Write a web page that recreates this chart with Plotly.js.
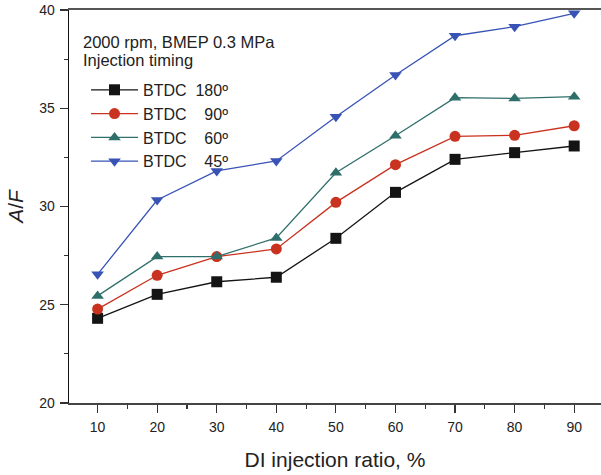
<!DOCTYPE html>
<html><head><meta charset="utf-8">
<script src="https://cdn.plot.ly/plotly-3.0.1.min.js"></script>
<style>html,body{margin:0;padding:0;background:#fff}</style>
</head><body>
<div id="chart" style="width:601px;height:475px"></div>
<script>
const ratio = [10, 20, 30, 40, 50, 60, 70, 80, 90];
const btdc180 = [24.31, 25.53, 26.17, 26.40, 28.38, 30.72, 32.40, 32.74, 33.08];
const btdc90  = [24.78, 26.50, 27.45, 27.84, 30.21, 32.13, 33.57, 33.62, 34.11];
const btdc60  = [25.45, 27.45, 27.45, 28.40, 31.72, 33.60, 35.54, 35.50, 35.59];
const btdc45  = [26.55, 30.33, 31.81, 32.32, 34.57, 36.69, 38.69, 39.15, 39.83];
const seriesNames = ["BTDC\u00a0\u00a0180º", "BTDC\u00a0\u00a0\u00a0\u00a090º", "BTDC\u00a0\u00a0\u00a0\u00a060º", "BTDC\u00a0\u00a0\u00a0\u00a045º"];
const xTicks = [10, 20, 30, 40, 50, 60, 70, 80, 90];
const yTicks = [20, 25, 30, 35, 40];
const noteLines = ["2000 rpm, BMEP 0.3 MPa", "Injection timing"];

const colors = ["#141414", "#c9321f", "#2f6f6b", "#3853b5"];
const symbols = ["square", "circle", "triangle-up", "triangle-down"];
const sizes = [11, 11, 11, 11];
const ys = [btdc180, btdc90, btdc60, btdc45];

const traces = ys.map((y, i) => ({
  x: ratio, y: y, name: seriesNames[i], type: "scatter", mode: "lines+markers",
  legendgroup: "g" + i,
  line: {color: colors[i], width: 1.3},
  marker: {symbol: symbols[i], size: sizes[i], color: colors[i]}
}));

const layout = {
  width: 601, height: 475,
  margin: {l: 69, r: 0, t: 10, b: 72},
  paper_bgcolor: "#fff", plot_bgcolor: "#fff",
  font: {family: "Liberation Sans, Arial, sans-serif", color: "#222", size: 14},
  showlegend: true,
  legend: {x: 0.032, y: 0.84, xanchor: "left", yanchor: "top",
    font: {size: 16, color: "#222"}, bgcolor: "rgba(0,0,0,0)",
    tracegroupgap: 0, itemwidth: 47},
  xaxis: {
    range: [5.2, 94.5], tickvals: xTicks, ticks: "outside", ticklen: 8, tickwidth: 1.2,
    tickcolor: "#333", showline: true, linecolor: "#444", linewidth: 1.6,
    mirror: false, showgrid: false, zeroline: false, ticklabelstandoff: 3,
    minor: {dtick: 10, tick0: 5, ticks: "outside", ticklen: 4, tickwidth: 1.2, tickcolor: "#333", showgrid: false},
    tickfont: {size: 14, color: "#222"},
    title: {text: "DI injection ratio, %", font: {size: 21, color: "#222"}, standoff: 18}
  },
  xaxis2: {overlaying: "x", side: "top", range: [5.2, 94.5], showline: true, linecolor: "#555", linewidth: 1.8, showticklabels: false, ticks: "", showgrid: false, zeroline: false},
  yaxis: {
    range: [20, 40], tickvals: yTicks, ticks: "outside", ticklen: 8, tickwidth: 1.2,
    tickcolor: "#333", showline: true, linecolor: "#111", linewidth: 1.3,
    showgrid: false, zeroline: false, ticklabelstandoff: 2,
    minor: {dtick: 2.5, tick0: 20, ticks: "outside", ticklen: 4, tickwidth: 1.2, tickcolor: "#333", showgrid: false},
    tickfont: {size: 14, color: "#222"},
    title: {text: "<i>A</i>/<i>F</i>", font: {size: 21, color: "#222"}, standoff: 10}
  },
  annotations: noteLines.map((t, i) => ({
    xref: "paper", yref: "paper", x: 0.022, y: [0.9186, 0.8728][i], xanchor: "left", yanchor: "middle",
    showarrow: false, align: "left", text: t, font: {size: 16.5, color: "#222"}
  }))
};
traces.push({x: [10], y: [20], xaxis: "x2", yaxis: "y", mode: "markers", marker: {opacity: 0}, showlegend: false, hoverinfo: "skip"});
Plotly.newPlot("chart", traces, layout, {displayModeBar: false, staticPlot: true});
</script>
</body></html>
